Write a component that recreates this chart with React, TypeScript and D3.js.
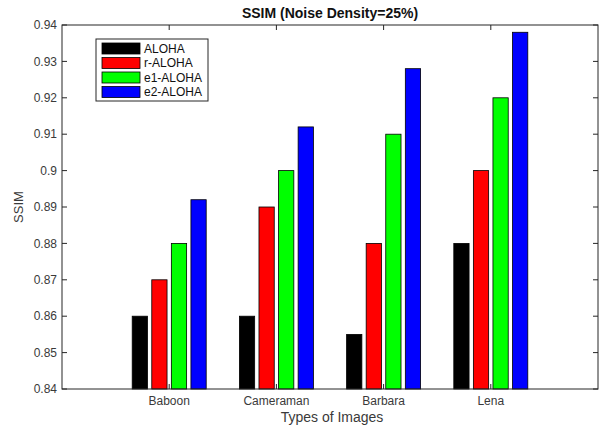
import React from 'react'
import * as d3 from 'd3'

const images = ['Baboon', 'Cameraman', 'Barbara', 'Lena']
const methods = ['ALOHA', 'r-ALOHA', 'e1-ALOHA', 'e2-ALOHA']
const colors = ['#000000', '#ff0000', '#00ff00', '#0000ff']
const aloha = [0.86, 0.86, 0.855, 0.88]
const rAloha = [0.87, 0.89, 0.88, 0.9]
const e1Aloha = [0.88, 0.9, 0.91, 0.92]
const e2Aloha = [0.892, 0.912, 0.928, 0.938]
const yTicks = [0.84, 0.85, 0.86, 0.87, 0.88, 0.89, 0.9, 0.91, 0.92, 0.93, 0.94]

const W = 602
const H = 430
const left = 62
const right = 598
const top = 25
const bottom = 389
const font = 'Arial, "Liberation Sans", Helvetica, sans-serif'

export default function App() {
  const series = [aloha, rAloha, e1Aloha, e2Aloha]
  const x = d3.scaleLinear().domain([0, 5]).range([left, right])
  const y = d3.scaleLinear().domain([0.84, 0.94]).range([bottom, top])
  const inner = d3
    .scaleBand<number>()
    .domain(d3.range(methods.length))
    .range([-37, 37])
    .paddingInner(0.22)

  return (
    <svg
      width={W}
      height={H}
      style={{ position: 'absolute', left: 0, top: 0, background: '#fff' }}
      fontFamily={font}
    >
      <rect width={W} height={H} fill="#fff" />
      {/* bars */}
      {images.map((img, i) =>
        series.map((s, j) => (
          <rect
            key={img + j}
            x={x(i + 1) + inner(j)!}
            y={y(s[i])}
            width={inner.bandwidth()}
            height={bottom - y(s[i])}
            fill={colors[j]}
            stroke="#000"
            strokeWidth={0.8}
          />
        ))
      )}
      {/* axes box */}
      <rect
        x={left}
        y={top}
        width={right - left}
        height={bottom - top}
        fill="none"
        stroke="#262626"
        strokeWidth={1}
      />
      {yTicks.map(t => (
        <g key={t}>
          <line x1={left} x2={left + 5} y1={y(t)} y2={y(t)} stroke="#262626" />
          <line x1={right} x2={right - 5} y1={y(t)} y2={y(t)} stroke="#262626" />
          <text
            x={left - 5}
            y={y(t)}
            dy="0.35em"
            textAnchor="end"
            fontSize={12}
            fill="#3a3a3a"
          >
            {d3.format('~g')(t)}
          </text>
        </g>
      ))}
      {images.map((img, i) => (
        <g key={img}>
          <line x1={x(i + 1)} x2={x(i + 1)} y1={bottom} y2={bottom - 5} stroke="#262626" />
          <line x1={x(i + 1)} x2={x(i + 1)} y1={top} y2={top + 5} stroke="#262626" />
          <text x={x(i + 1)} y={bottom + 16} textAnchor="middle" fontSize={12} fill="#3a3a3a">
            {img}
          </text>
        </g>
      ))}
      {/* titles */}
      <text x={330} y={18} textAnchor="middle" fontSize={14} fontWeight="bold" fill="#111">
        SSIM (Noise Density=25%)
      </text>
      <text x={332} y={422} textAnchor="middle" fontSize={14} fill="#3a3a3a">
        Types of Images
      </text>
      <text
        transform={`translate(23, ${(top + bottom) / 2}) rotate(-90)`}
        textAnchor="middle"
        fontSize={13}
        fill="#3a3a3a"
      >
        SSIM
      </text>
      {/* legend */}
      <rect x={96} y={39} width={112} height={62} fill="#fff" stroke="#262626" strokeWidth={1} />
      {methods.map((m, j) => (
        <g key={m}>
          <rect
            x={102}
            y={43 + j * 14.5}
            width={38}
            height={11}
            fill={colors[j]}
            stroke="#000"
            strokeWidth={0.8}
          />
          <text x={144} y={48.5 + j * 14.5} dy="0.35em" fontSize={12} fill="#111">
            {m}
          </text>
        </g>
      ))}
    </svg>
  )
}
